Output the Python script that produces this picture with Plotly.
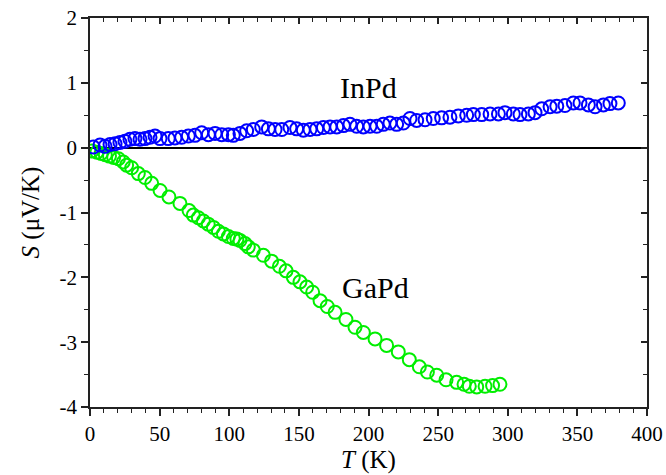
import plotly.graph_objects as go

# InPd data
inpd_T = [2.4, 7.2, 10.8, 14.4, 18, 21.5, 25.1, 28.7, 32.3, 35.9, 39.5, 43.1, 46.7,
          50.3, 56.2, 61, 65.8, 70.6, 75.4, 80.2, 85, 89.8, 94.6, 99.4,
          102.9, 107.7, 112.5, 117.3, 123.3, 128.1, 132.9, 137.7, 143.6, 148.4,
          153.2, 158, 162.8, 167.6, 172.4, 177.2, 182, 186.7, 191.5, 196.3,
          201.1, 205.9, 210.6, 215.4, 220.2, 225, 229.8, 234.6, 240.6, 246.5,
          252.5, 258.5, 264.5, 270.5, 275.3, 281.3, 287.3, 293.3, 298, 304,
          308.8, 314.8, 319.6, 324.4, 330.4, 335.2, 341.1, 347.1, 351.9, 357.9,
          362.7, 368.7, 373.4, 379.4]
inpd_S = [0.01, 0.04, 0.02, 0.05, 0.06, 0.08, 0.10, 0.13, 0.14, 0.13, 0.14, 0.16, 0.18,
          0.14, 0.14, 0.15, 0.16, 0.18, 0.19, 0.23, 0.20, 0.22, 0.20, 0.20,
          0.19, 0.22, 0.26, 0.28, 0.32, 0.29, 0.28, 0.28, 0.31, 0.29,
          0.27, 0.28, 0.29, 0.31, 0.32, 0.32, 0.34, 0.36, 0.33, 0.32,
          0.33, 0.33, 0.36, 0.38, 0.36, 0.38, 0.45, 0.42, 0.43, 0.45,
          0.46, 0.47, 0.49, 0.50, 0.51, 0.51, 0.52, 0.52, 0.54, 0.52,
          0.51, 0.52, 0.54, 0.60, 0.63, 0.64, 0.65, 0.69, 0.69, 0.66,
          0.63, 0.66, 0.68, 0.69]

# GaPd data
gapd_T = [1.5, 5, 8, 11, 14, 17, 20.4, 23.9, 26.3, 29.9, 34.7, 39.5, 44.3, 50.3,
          56.7, 64.6, 71.1, 74.2, 77.8, 81.4, 84.9, 88.6, 92.2, 95.8, 99.4,
          102.9, 105.5, 107.7, 111.3, 113.7, 117.3, 124.5, 130.4, 136, 140.8,
          146, 150.8, 155.6, 159.9, 165.2, 170.4, 176, 183.8, 190.3, 196.3,
          204.7, 213, 221.4, 229.3, 236.5, 242.3, 249, 255.7, 263.3, 268.6,
          272.4, 277.7, 283.7, 289.1, 294.4]
gapd_S = [-0.05, -0.07, -0.09, -0.11, -0.13, -0.15, -0.17, -0.22, -0.27, -0.31, -0.40,
          -0.46, -0.55, -0.66, -0.76, -0.86, -0.97, -1.04, -1.08, -1.13, -1.18,
          -1.23, -1.29, -1.33, -1.37, -1.40, -1.41, -1.43, -1.48, -1.53, -1.58,
          -1.66, -1.75, -1.83, -1.90, -2.00, -2.07, -2.15, -2.23, -2.36, -2.45,
          -2.54, -2.65, -2.77, -2.85, -2.95, -3.05, -3.15, -3.27, -3.38, -3.46,
          -3.51, -3.58, -3.62, -3.65, -3.68, -3.69, -3.68, -3.67, -3.65]

# tick labels
x_tickvals = [0, 50, 100, 150, 200, 250, 300, 350, 400]
x_ticktext = ["0", "50", "100", "150", "200", "250", "300", "350", "400"]
y_tickvals = [-4, -3, -2, -1, 0, 1, 2]
y_ticktext = ["-4", "-3", "-2", "-1", "0", "1", "2"]

x_range = [0, 400]
y_range = [-4, 2]

FONT = "Liberation Serif"
FS = 21
TFS = 25

fig = go.Figure()
fig.add_trace(go.Scatter(x=gapd_T, y=gapd_S, mode="markers", name="GaPd",
                         marker=dict(symbol="circle-open", size=13, color="#00ee00",
                                     line=dict(width=2, color="#00ee00"))))
fig.add_trace(go.Scatter(x=inpd_T, y=inpd_S, mode="markers", name="InPd",
                         marker=dict(symbol="circle-open", size=13, color="#0000ff",
                                     line=dict(width=2, color="#0000ff"))))
fig.add_trace(go.Scatter(x=[None], y=[None], xaxis="x2", yaxis="y2",
                         showlegend=False, hoverinfo="skip"))

axis_common = dict(showline=True, linecolor="#222", linewidth=1.5, showgrid=False,
                   tickcolor="#222", tickwidth=1.5, ticklen=7, automargin=False,
                   ticklabeloverflow="allow",
                   tickfont=dict(family=FONT, size=FS, color="black"))

fig.update_layout(
    width=666, height=475,
    margin=dict(l=90, r=19, t=18, b=68),
    paper_bgcolor="white", plot_bgcolor="white",
    showlegend=False,
    font=dict(family=FONT, size=FS, color="black"),
    xaxis=dict(range=x_range, tickvals=x_tickvals, ticktext=x_ticktext,
               ticks="outside", zeroline=False,
               minor=dict(dtick=10, ticks="outside", ticklen=4, tickcolor="#222", tickwidth=1),
               title=dict(text="<i>T</i> (K)", font=dict(family=FONT, size=TFS), standoff=2),
               **axis_common),
    yaxis=dict(range=y_range, tickvals=y_tickvals, ticktext=y_ticktext,
               ticks="outside",
               zeroline=True, zerolinecolor="black", zerolinewidth=1.5,
               minor=dict(dtick=0.5, ticks="outside", ticklen=4, tickcolor="#222", tickwidth=1),
               title=dict(text="<i>S</i> (μV/K)", font=dict(family=FONT, size=TFS), standoff=13),
               **axis_common),
    xaxis2=dict(range=x_range, overlaying="x", side="top", dtick=50, tick0=0,
                ticks="inside", showticklabels=False, zeroline=False, automargin=False,
                showline=True, linecolor="#222", linewidth=1.5, showgrid=False,
                tickcolor="#222", tickwidth=1.5, ticklen=6,
                minor=dict(dtick=10, ticks="inside", ticklen=4, tickcolor="#222", tickwidth=1)),
    yaxis2=dict(range=y_range, overlaying="y", side="right", dtick=1, tick0=0,
                ticks="inside", showticklabels=False, zeroline=False, automargin=False,
                showline=True, linecolor="#222", linewidth=1.5, showgrid=False,
                tickcolor="#222", tickwidth=1.5, ticklen=6,
                minor=dict(dtick=0.5, ticks="inside", ticklen=4, tickcolor="#222", tickwidth=1)),
)

fig.add_annotation(x=200, y=0.93, text="InPd", showarrow=False,
                   font=dict(family=FONT, size=30, color="black"))
fig.add_annotation(x=205, y=-2.16, text="GaPd", showarrow=False,
                   font=dict(family=FONT, size=30, color="black"))

fig.write_html("out.html", config={"displayModeBar": False},
               post_script="document.body.style.margin='0';document.body.style.overflow='hidden';")
